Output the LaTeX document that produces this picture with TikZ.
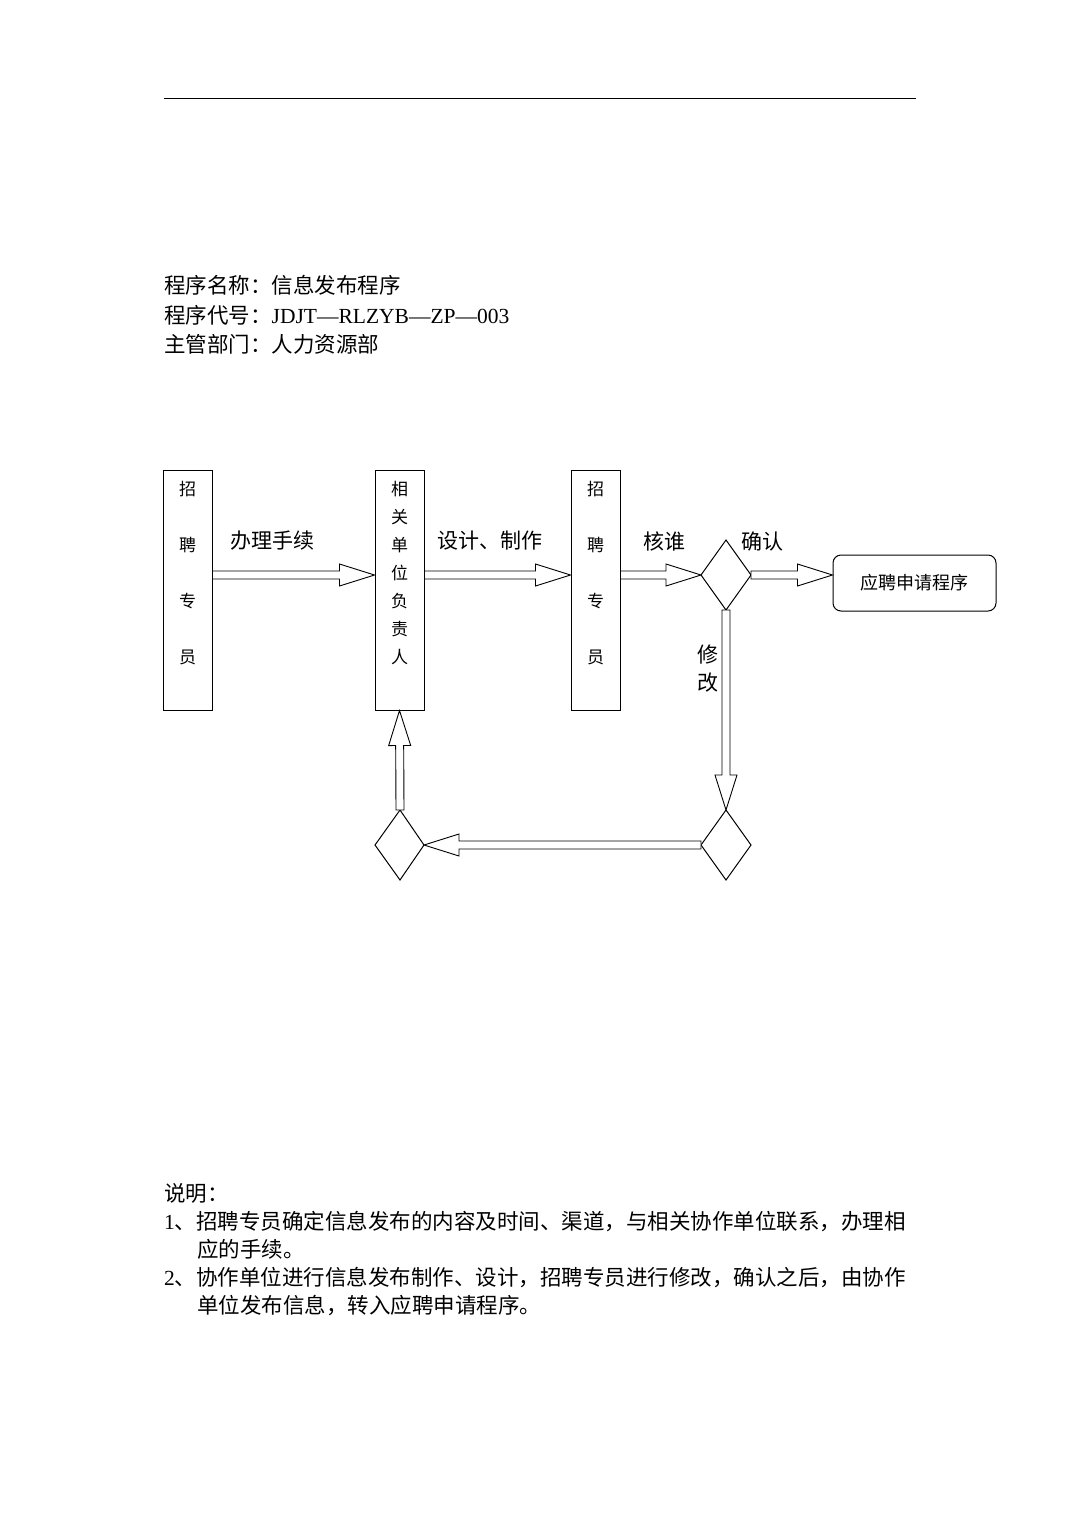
\documentclass[tikz,border=0pt]{standalone}
\usepackage{fontspec}
\setmainfont{Liberation Serif}
\newfontfamily\cjk{Noto Sans CJK SC}
\usetikzlibrary{calc}
\tikzset{
  box/.style={draw,line width=1pt,minimum width=49pt,inner sep=0pt},
  dia/.style={draw,line width=1pt},
  lbl/.style={font=\cjk\fontsize{21}{26}\selectfont,inner sep=0pt},
  vt/.style={font=\cjk\fontsize{17}{28}\selectfont,align=center,inner sep=0pt},
  txt/.style={font=\fontsize{21.5}{28}\selectfont,anchor=west,inner sep=0pt},
  barr/.style={draw,line width=0.9pt,fill=white}
}
\newcommand\barrow[2]{%
  \path[barr] let \p1=(#1), \p2=(#2), \n1={atan2(\y2-\y1,\x2-\x1)}, \n2={veclen(\x2-\x1,\y2-\y1)} in
  [shift={(\x1,\y1)},rotate=\n1] (0pt,4pt)--(\n2-35pt,4pt)--(\n2-35pt,11pt)--(\n2,0pt)--(\n2-35pt,-11pt)--(\n2-35pt,-4pt)--(0pt,-4pt)--cycle;}
\begin{document}
\begin{tikzpicture}[x=1pt,y=-1pt]
\useasboundingbox (0,0) rectangle (1080,1527);
\draw[line width=1pt] (164,98) -- (916,98);
\node[txt] (h1) at (164,285) {\cjk 程序名称：信息发布程序};
\node[txt] (h2) at (164,315) {{\cjk 程序代号：}JDJT—RLZYB—ZP—003};
\node[txt] (h3) at (164,344) {\cjk 主管部门：人力资源部};
% boxes
\node[box,minimum height=240pt] (A) at (187.5,590) {};
\node[box,minimum height=240pt] (B) at (399.5,590) {};
\node[box,minimum height=240pt] (C) at (595.5,590) {};
\node[vt,anchor=north] (At) at (187.5,481) {招\\[28pt]聘\\[28pt]专\\[28pt]员};
\node[vt,anchor=north] (Bt) at (399.5,481) {相\\关\\单\\位\\负\\责\\人};
\node[vt,anchor=north] (Ct) at (595.5,481) {招\\[28pt]聘\\[28pt]专\\[28pt]员};
\draw[dia] (701,575) coordinate (d1w) -- (726,540) coordinate (d1n) -- (751,575) coordinate (d1e) -- (726,610) coordinate (d1s) -- cycle;
\draw[dia] (701,845) coordinate (d2w) -- (726,810) coordinate (d2n) -- (751,845) coordinate (d2e) -- (726,880) coordinate (d2s) -- cycle;
\draw[dia] (375,845) coordinate (d3w) -- (400,810) coordinate (d3n) -- (424,845) coordinate (d3e) -- (400,880) coordinate (d3s) -- cycle;
\node[draw,line width=1pt,rounded corners=8pt,minimum width=163pt,minimum height=56pt,font=\cjk\fontsize{18}{20}\selectfont] (E) at (914.5,583) {应聘申请程序\hspace{20pt}};
% arrows
\barrow{$(A.east)+(0,-15)$}{$(B.west)+(0,-15)$}
\barrow{$(B.east)+(0,-15)$}{$(C.west)+(0,-15)$}
\barrow{$(C.east)+(0,-15)$}{d1w}
\barrow{d1e}{$(E.west)+(0,-8)$}
\barrow{d1s}{d2n}
\barrow{d2w}{d3e}
\barrow{d3n}{B.south}
% labels
\node[lbl] (l1) at (272,541) {办理手续};
\node[lbl] (l2) at (490,541) {设计、制作};
\node[lbl] (l3) at (664,541) {核谁};
\node[lbl] (l4) at (762,541) {确认};
\node[lbl,align=center,font=\cjk\fontsize{21}{28}\selectfont] (l5) at (708,669) {修\\改};
% notes
\node[txt] (n0) at (164,1193) {\cjk 说明：};
\node[txt] (n1) at (164,1221) {1{\cjk 、招聘专员确定信息发布的内容及时间、渠道，与相关协作单位联系，办理相}};
\node[txt] (n1b) at (197,1249) {\cjk 应的手续。};
\node[txt] (n2) at (164,1277) {2{\cjk 、协作单位进行信息发布制作、设计，招聘专员进行修改，确认之后，由协作}};
\node[txt] (n2b) at (197,1305) {\cjk 单位发布信息，转入应聘申请程序。};
\end{tikzpicture}
\end{document}
